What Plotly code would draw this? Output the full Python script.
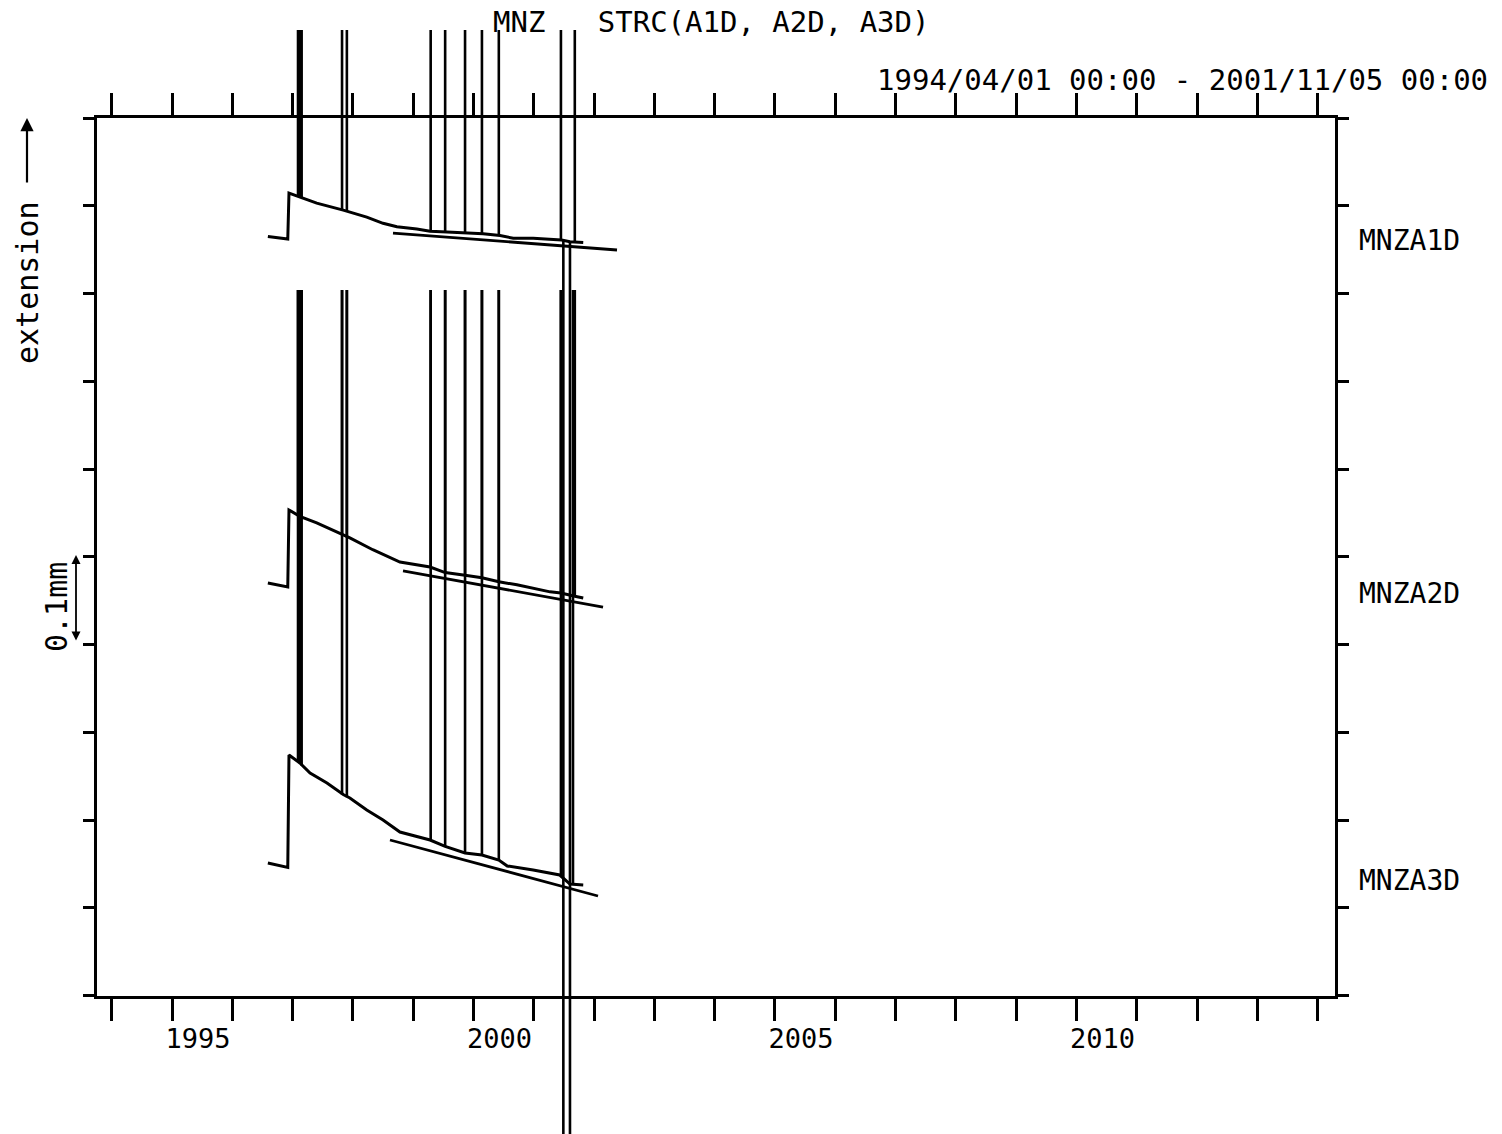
import plotly.graph_objects as go

# ---------------------------------------------------------------
# MNZ strainmeter records, channels A1D / A2D / A3D.
# Time in decimal years, extension in mm (each channel stacked
# at its own offset on a common 0.1 mm-per-division scale).
# ---------------------------------------------------------------

a1d_t = [1996.59, 1996.68, 1996.92, 1996.94, 1997.12, 1997.40, 1997.84, 1998.00,
         1998.23, 1998.50, 1998.73, 1999.06, 1999.28, 1999.56, 1999.89, 2000.16,
         2000.44, 2000.66, 2000.99, 2001.46, 2001.60, 2001.82]
a1d_v = [0.865, 0.864, 0.862, 0.9145, 0.910, 0.903, 0.895, 0.892,
         0.887, 0.880, 0.876, 0.8735, 0.871, 0.870, 0.869, 0.868,
         0.866, 0.863, 0.863, 0.861, 0.859, 0.858]

a2d_t = [1996.59, 1996.92, 1996.94, 1997.12, 1997.40, 1997.84, 1997.95, 1998.33,
         1998.78, 1999.28, 1999.53, 1999.86, 2000.14, 2000.42, 2000.72, 2001.27,
         2001.45, 2001.68, 2001.82]
a2d_v = [0.470, 0.4655, 0.5533, 0.546, 0.5385, 0.525, 0.5214, 0.508,
         0.494, 0.4883, 0.482, 0.479, 0.476, 0.4715, 0.468, 0.460,
         0.4587, 0.455, 0.453]

a3d_t = [1996.59, 1996.92, 1996.94, 1997.12, 1997.29, 1997.57, 1997.84, 1997.95,
         1998.23, 1998.50, 1998.78, 1999.28, 1999.53, 1999.86, 2000.14, 2000.42,
         2000.56, 2000.99, 2001.43, 2001.60, 2001.82]
a3d_v = [0.151, 0.146, 0.2741, 0.265, 0.2536, 0.2422, 0.229, 0.2251,
         0.2114, 0.200, 0.1863, 0.1772, 0.170, 0.1625, 0.1601, 0.1544,
         0.1476, 0.143, 0.1373, 0.127, 0.126]

# Offscale excursions: time, level before the jump, recorded level (clipped)
a1d_spike_t = [1997.09, 1997.12, 1997.15, 1997.82, 1997.90, 1999.29, 1999.53,
               1999.86, 2000.14, 2000.42, 2001.45, 2001.68, 2001.49, 2001.60]
a1d_spike_from = [0.911, 0.910, 0.909, 0.895, 0.893, 0.871, 0.870,
                  0.869, 0.868, 0.866, 0.861, 0.858, 0.860, 0.859]
a1d_spike_to = [1.15, 1.15, 1.15, 1.15, 1.15, 1.15, 1.15,
                1.15, 1.15, 1.15, 1.15, 1.15, -0.20, -0.20]

a2d_spike_t = [1997.09, 1997.12, 1997.15, 1997.82, 1997.90, 1999.29, 1999.53,
               1999.86, 2000.14, 2000.42, 2001.45, 2001.68]
a2d_spike_from = [0.549, 0.546, 0.545, 0.525, 0.522, 0.488, 0.482,
                  0.479, 0.476, 0.4715, 0.4587, 0.455]
a2d_spike_to = [0.804, 0.804, 0.804, 0.804, 0.804, 0.804, 0.804,
                0.804, 0.804, 0.804, 0.804, 0.804]

a3d_spike_t = [1997.09, 1997.12, 1997.15, 1997.82, 1997.90, 1999.29, 1999.53,
               1999.86, 2000.14, 2000.42, 2001.45, 2001.65]
a3d_spike_from = [0.267, 0.265, 0.262, 0.229, 0.226, 0.1772, 0.170,
                  0.1625, 0.1601, 0.1544, 0.1373, 0.127]
a3d_spike_to = [0.804, 0.804, 0.804, 0.804, 0.804, 0.804, 0.804,
                0.804, 0.804, 0.804, 0.804, 0.804]

# Linear trend lines (start / end)
a1d_trend_t = [1998.665, 2002.380]
a1d_trend_v = [0.8689, 0.8496]
a2d_trend_t = [1998.831, 2002.148]
a2d_trend_v = [0.4838, 0.4427]
a3d_trend_t = [1998.615, 2002.065]
a3d_trend_v = [0.1772, 0.1134]

channel_names = ["MNZA1D", "MNZA2D", "MNZA3D"]
year_ticks = list(range(1994, 2015))
year_labels = ["1995", "2000", "2005", "2010"]
title_text = "MNZ\u00a0\u00a0\u00a0STRC(A1D,\u00a0A2D,\u00a0A3D)"
period_text = "1994/04/01\u00a000:00\u00a0-\u00a02001/11/05\u00a000:00"

# ---------------------------------------------------------------
W, H = 1502, 1134
FONT = "DejaVu Sans Mono"
INK = "black"

# frame box in pixels
FX0, FX1 = 96.5, 1335.0
FY_TOP, FY_BOT = 118.0, 995.5
DATA_TOP = 30.0                    # recording window extends above the frame
px_per_mm = (FY_BOT - FY_TOP) / 1.0

X_RANGE = [1993.748, 2014.287]
x_dom = [FX0 / W, FX1 / W]
frame_dom = [1 - FY_BOT / H, 1 - FY_TOP / H]
data_dom = [0.0, 1 - DATA_TOP / H]
data_range = [-(H - FY_BOT) / px_per_mm, (FY_BOT - DATA_TOP) / px_per_mm]


def segments(ts, y0, y1):
    xs, ys = [], []
    for t, a, b in zip(ts, y0, y1):
        xs += [t, t, None]
        ys += [a, b, None]
    return xs, ys


fig = go.Figure()

series = [
    (a1d_t, a1d_v, a1d_spike_t, a1d_spike_from, a1d_spike_to, a1d_trend_t, a1d_trend_v),
    (a2d_t, a2d_v, a2d_spike_t, a2d_spike_from, a2d_spike_to, a2d_trend_t, a2d_trend_v),
    (a3d_t, a3d_v, a3d_spike_t, a3d_spike_from, a3d_spike_to, a3d_trend_t, a3d_trend_v),
]
for name, (t, v, st, sf, sto, tt, tv) in zip(channel_names, series):
    # record and trend inside the frame
    fig.add_trace(go.Scatter(x=t, y=v, mode="lines", name=name,
                             line=dict(color=INK, width=3),
                             xaxis="x", yaxis="y"))
    fig.add_trace(go.Scatter(x=tt, y=tv, mode="lines", name=name + " trend",
                             line=dict(color=INK, width=2.8),
                             xaxis="x", yaxis="y"))
    # offscale excursions run beyond the frame on the extended window
    sx, sy = segments(st, sf, sto)
    fig.add_trace(go.Scatter(x=sx, y=sy, mode="lines", name=name + " offscale",
                             line=dict(color=INK, width=2.6),
                             xaxis="x2", yaxis="y2"))

tick_text = [str(y) if str(y) in year_labels else "" for y in year_ticks]

fig.update_layout(
    width=W, height=H,
    margin=dict(l=0, r=0, t=0, b=0),
    paper_bgcolor="white",
    plot_bgcolor="rgba(0,0,0,0)",
    showlegend=False,
    font=dict(family=FONT, color=INK),
    title=dict(text=title_text, x=493 / W, xanchor="left",
               y=1 - 22 / H, yanchor="middle",
               font=dict(family=FONT, size=29, color=INK)),
    xaxis=dict(domain=x_dom, range=X_RANGE, anchor="y",
               tickmode="array", tickvals=year_ticks, ticktext=tick_text,
               ticks="outside", ticklen=22, tickwidth=2.5, tickcolor=INK,
               showline=True, linewidth=3, linecolor=INK, mirror="ticks",
               showgrid=False, zeroline=False, ticklabelshift=26,
               ticklabelstandoff=-5,
               tickfont=dict(family=FONT, size=27, color=INK)),
    yaxis=dict(domain=frame_dom, range=[0, 1], anchor="x",
               tickmode="array", tickvals=[i / 10 for i in range(11)],
               ticks="outside", ticklen=11, tickwidth=2.5, tickcolor=INK,
               showline=True, linewidth=3, linecolor=INK, mirror="ticks",
               showgrid=False, zeroline=False, showticklabels=False),
    xaxis2=dict(domain=x_dom, range=X_RANGE, anchor="y2", visible=False),
    yaxis2=dict(domain=data_dom, range=data_range, anchor="x2", visible=False),
)

annotations = [
    dict(text=period_text, x=1490 / W, y=1 - 80 / H, xanchor="right", yanchor="middle",
         font=dict(family=FONT, size=29, color=INK)),
    dict(text="extension", x=27 / W, y=1 - 283 / H, textangle=-90,
         xanchor="center", yanchor="middle",
         font=dict(family=FONT, size=30, color=INK)),
    dict(text="0.1mm", x=56 / W, y=1 - 607 / H, textangle=-90,
         xanchor="center", yanchor="middle",
         font=dict(family=FONT, size=30, color=INK)),
]
for name, yc in zip(channel_names, [240, 593, 880]):
    annotations.append(dict(text=name, x=1357 / W, y=1 - yc / H,
                            xanchor="left", yanchor="middle",
                            font=dict(family=FONT, size=28, color=INK)))
for a in annotations:
    a.update(xref="paper", yref="paper", showarrow=False)

# axis direction arrow and 0.1 mm scale bar
annotations.append(dict(text="", xref="paper", yref="paper", x=27 / W, y=1 - 118 / H,
                        ax=0, ay=66, showarrow=True, arrowhead=2, arrowsize=1.2,
                        arrowwidth=2.2, arrowcolor=INK))
annotations.append(dict(text="", xref="paper", yref="paper", x=76 / W, y=1 - 555 / H,
                        ax=0, ay=87, showarrow=True, arrowhead=2, arrowside="end+start",
                        arrowsize=1.0, arrowwidth=1.8, arrowcolor=INK))
fig.update_layout(annotations=annotations)

fig.write_html("out.html")
